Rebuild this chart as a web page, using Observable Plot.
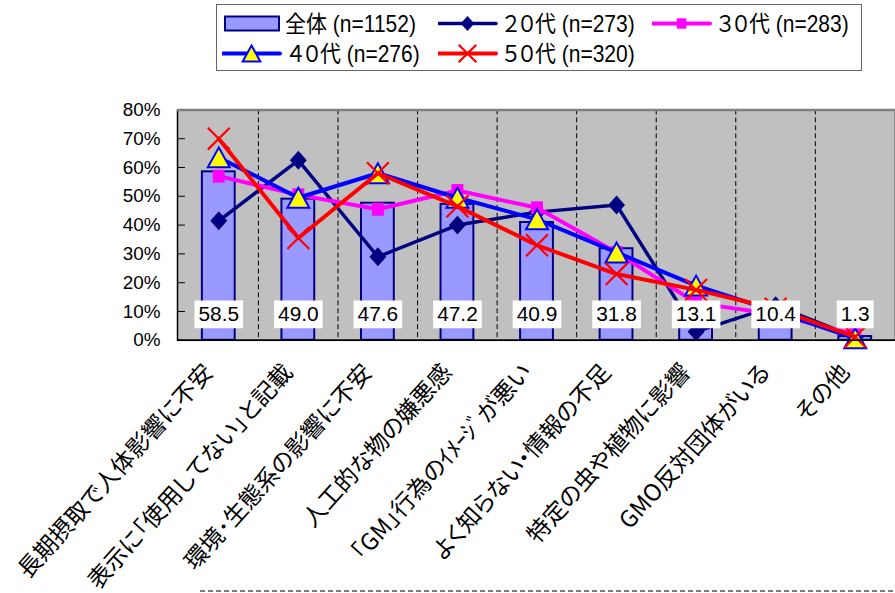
<!DOCTYPE html>
<html>
<head>
<meta charset="utf-8">
<script src="https://cdn.jsdelivr.net/npm/d3@7"></script>
<script src="https://cdn.jsdelivr.net/npm/@observablehq/plot@0.6"></script>
<style>
  html, body { margin: 0; padding: 0; background: #fff; overflow: hidden; }
  #wrap { position: relative; width: 895px; height: 593px; overflow: hidden; }
  #chart { position: absolute; left: 0; top: 0; }
  #chart svg text { font-feature-settings: "palt"; }
  #legend {
    position: absolute; left: 216px; top: 4px; width: 646px; height: 67px;
    box-sizing: border-box; border: 1.5px solid #666; background: #fff;
    font-family: "Liberation Sans", "Noto Sans CJK JP", sans-serif; font-size: 21px; color: #000;
    font-feature-settings: "palt";
  }
  .item { position: absolute; height: 26px; }
  .item svg { position: absolute; left: 0; top: 0; }
  .item span { position: absolute; top: 0; line-height: 26px; white-space: nowrap; transform: scaleY(1.1); transform-origin: 0 50%; }
  #footer { position: absolute; left: 200px; top: 589px; }
</style>
</head>
<body>
<div id="wrap">
  <div id="chart"></div>
  <div id="legend"></div>
  <svg id="footer" width="700" height="4"><line x1="0" x2="700" y1="2" y2="2" stroke="#000" stroke-width="1" stroke-dasharray="5,3"/></svg>
</div>
<script>
// Reasons given for concern about GM food, by age group (%)
const categories = [
  "長期摂取で人体影響に不安",
  "表示に「使用してない」と記載",
  "環境･生態系の影響に不安",
  "人工的な物の嫌悪感",
  "「GM」行為のｲﾒｰｼﾞが悪い",
  "よく知らない・情報の不足",
  "特定の虫や植物に影響",
  "GMO反対団体がいる",
  "その他"
];
const overall = [58.5, 49.0, 47.6, 47.2, 40.9, 31.8, 13.1, 10.4, 1.3];
const age20 = [41.5, 62.5, 29, 40, 44.5, 47, 3, 12, 1.1];
const age30 = [57, 50.5, 45.5, 52, 46, 30.5, 13, 9, 2.1];
const age40 = [63.5, 49.5, 58, 49.5, 42, 30.5, 19, 10, 0.7];
const age50 = [70, 35.5, 58, 46.5, 33, 23, 17.5, 11, 1.2];
const seriesNames = ["全体 (n=1152)", "２０代 (n=273)", "３０代 (n=283)", "４０代 (n=276)", "５０代 (n=320)"];
const yTicks = [0, 10, 20, 30, 40, 50, 60, 70, 80];

// Marker shapes
const diamondSym = {draw(c) { c.moveTo(0, -9.5); c.lineTo(8.5, 0); c.lineTo(0, 9.5); c.lineTo(-8.5, 0); c.closePath(); }};
const squareSym = {draw(c) { c.rect(-6, -6.5, 12, 13); }};
const triangleSym = {draw(c) { c.moveTo(0, -10); c.lineTo(11, 10); c.lineTo(-11, 10); c.closePath(); }};
const crossSym = {draw(c) { c.moveTo(-11, -11); c.lineTo(11, 11); c.moveTo(11, -11); c.lineTo(-11, 11); }};
const boxSym = (w) => ({draw(c) { c.rect(-w / 2, -14, w, 28); }});

const ageSeries = [
  {name: seriesNames[1], values: age20, color: "#000080", width: 3.5, symbol: diamondSym, fill: "#000080", stroke: "none", sw: 0},
  {name: seriesNames[2], values: age30, color: "#ff00ff", width: 4, symbol: squareSym, fill: "#ff00ff", stroke: "none", sw: 0},
  {name: seriesNames[3], values: age40, color: "#0000ff", width: 4, symbol: triangleSym, fill: "#ffff00", stroke: "#0000ff", sw: 2},
  {name: seriesNames[4], values: age50, color: "#ff0000", width: 4, symbol: crossSym, fill: "none", stroke: "#ff0000", sw: 2.2}
];

const W = 900, H = 593;
const mLeft = 178, mRight = 0, mTop = 110, mBottom = 251.3;
const innerW = W - mLeft - mRight;
const step = innerW / categories.length;

const barRows = categories.map((c, i) => ({cat: c, v: overall[i]}));

// Text boxes sized to each value label
const ctx = document.createElement("canvas").getContext("2d");
ctx.font = "21px 'Liberation Sans'";
const labelRows = barRows.map(d => {
  const t = d.v.toFixed(1);
  return {cat: d.cat, t, sym: boxSym(ctx.measureText(t).width + 8)};
});

const seriesMarks = ageSeries.flatMap(s => {
  const rows = categories.map((c, i) => ({cat: c, v: s.values[i]}));
  return [
    Plot.line(rows, {x: "cat", y: "v", stroke: s.color, strokeWidth: s.width, strokeLinejoin: "round"}),
    Plot.dot(rows, {x: "cat", y: "v", symbol: s.symbol, r: 5, fill: s.fill, stroke: s.stroke, strokeWidth: s.sw})
  ];
});

const chart = Plot.plot({
  width: W,
  height: H,
  marginLeft: mLeft,
  marginRight: mRight,
  marginTop: mTop,
  marginBottom: mBottom,
  style: {fontFamily: "'Liberation Sans', sans-serif", fontSize: "19px", background: "transparent", overflow: "visible"},
  x: {domain: categories, paddingInner: 0.59, paddingOuter: 0.295, axis: null},
  y: {domain: [0, 80], axis: null},
  symbol: {type: "identity"},
  marks: [
    Plot.frame({fill: "#c0c0c0"}),
    Plot.ruleX(categories.slice(1), {x: d => d, dx: -step / 2, stroke: "#000", strokeWidth: 1, strokeDasharray: "5,3"}),
    Plot.tickY(yTicks, {y: d => d, stroke: "#000", strokeWidth: 1, insetRight: innerW - 8}),
    Plot.barY(barRows, {x: "cat", y: "v", fill: "#9999ff", stroke: "#000080", strokeWidth: 2}),
    ...seriesMarks,
    Plot.dot(labelRows, {x: "cat", frameAnchor: "bottom", dy: -26, symbol: "sym", r: 5, fill: "#fff", stroke: "none"}),
    Plot.text(labelRows, {x: "cat", text: "t", frameAnchor: "bottom", lineAnchor: "middle", dy: -26, fontSize: 21, fill: "#000"}),
    Plot.frame({stroke: "#000", strokeWidth: 1.5}),
    Plot.ruleY([80], {stroke: "#808080", strokeWidth: 2.5}),
    Plot.ruleY([0], {stroke: "#000", strokeWidth: 1.5}),
    Plot.text(yTicks, {y: d => d, text: d => d + "%", frameAnchor: "left", textAnchor: "end", dx: -17, fontSize: 19, fill: "#000"}),
    Plot.text(categories, {x: d => d, text: d => d, frameAnchor: "bottom", rotate: -48, textAnchor: "end", lineAnchor: "middle", dx: -10, dy: 28, fontSize: 23.5, fontFamily: "'Noto Sans CJK JP', sans-serif", fill: "#000"})
  ]
});
document.getElementById("chart").appendChild(chart);

// Legend
const legendItems = [
  {name: seriesNames[0], kind: "bar", left: 7, top: 6, textLeft: 61},
  {name: seriesNames[1], kind: "line", s: ageSeries[0], left: 221, top: 6, textLeft: 65},
  {name: seriesNames[2], kind: "line", s: ageSeries[1], left: 435, top: 6, textLeft: 65},
  {name: seriesNames[3], kind: "line", s: ageSeries[2], left: 5, top: 36, textLeft: 66},
  {name: seriesNames[4], kind: "line", s: ageSeries[3], left: 221, top: 36, textLeft: 65}
];
const legend = d3.select("#legend");
for (const it of legendItems) {
  const div = legend.append("div").attr("class", "item").style("left", it.left + "px").style("top", it.top + "px");
  const svg = div.append("svg").attr("width", 60).attr("height", 26);
  if (it.kind === "bar") {
    svg.append("rect").attr("x", 1).attr("y", 5.5).attr("width", 54).attr("height", 14)
      .attr("fill", "#9999ff").attr("stroke", "#000080").attr("stroke-width", 2);
  } else {
    const s = it.s;
    svg.append("line").attr("x1", 1).attr("x2", 58).attr("y1", 12.5).attr("y2", 12.5)
      .attr("stroke", s.color).attr("stroke-width", s.width).attr("stroke-linecap", "round");
    const p = d3.path();
    s.symbol.draw(p);
    svg.append("path").attr("d", p.toString()).attr("transform", "translate(29.5,12.5) scale(0.8)")
      .attr("fill", s.fill).attr("stroke", s.stroke).attr("stroke-width", s.sw / 0.8);
  }
  div.append("span").style("left", it.textLeft + "px").text(it.name);
}
</script>
</body>
</html>
